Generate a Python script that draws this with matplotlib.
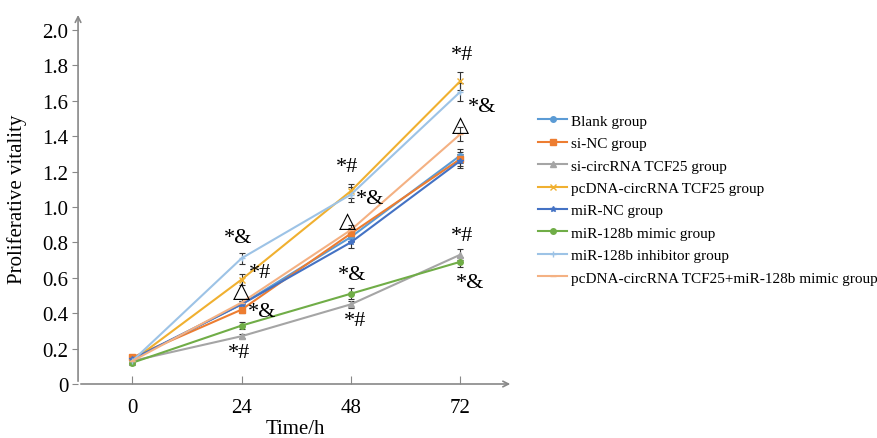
import matplotlib
matplotlib.use('Agg')
import matplotlib.pyplot as plt
from matplotlib.lines import Line2D

plt.rcParams['font.family'] = ['Liberation Serif', 'DejaVu Serif']

hours = [0, 24, 48, 72]

groups = ['Blank group', 'si-NC group', 'si-circRNA TCF25 group',
          'pcDNA-circRNA TCF25 group', 'miR-NC group', 'miR-128b mimic group',
          'miR-128b inhibitor group', 'pcDNA-circRNA TCF25+miR-128b mimic group']

blank = [0.14, 0.45, 0.83, 1.29]
si_nc = [0.15, 0.42, 0.85, 1.27]
si_circ = [0.13, 0.27, 0.45, 0.73]
pcdna = [0.13, 0.59, 1.09, 1.71]
mir_nc = [0.14, 0.45, 0.80, 1.26]
mimic = [0.12, 0.33, 0.51, 0.69]
inhibitor = [0.13, 0.71, 1.07, 1.65]
pcdna_mimic = [0.13, 0.46, 0.87, 1.41]

blank_err = [0.01, 0.02, 0.03, 0.04]
si_nc_err = [0.01, 0.02, 0.03, 0.04]
si_circ_err = [0.01, 0.01, 0.02, 0.03]
pcdna_err = [0.01, 0.03, 0.04, 0.05]
mir_nc_err = [0.01, 0.02, 0.03, 0.04]
mimic_err = [0.01, 0.02, 0.03, 0.03]
inhibitor_err = [0.01, 0.03, 0.04, 0.05]
pcdna_mimic_err = [0.01, 0.02, 0.03, 0.04]

series = [blank, si_nc, si_circ, pcdna, mir_nc, mimic, inhibitor, pcdna_mimic]
errors = [blank_err, si_nc_err, si_circ_err, pcdna_err, mir_nc_err, mimic_err,
          inhibitor_err, pcdna_mimic_err]
colors = ['#5B9BD5', '#ED7D31', '#A5A5A5', '#F0B030', '#4472C4', '#70AD47',
          '#9DC3E6', '#F4B183']
markers = ['o', 's', '^', 'x', '*', 'o', '+', '_']

# significance marks: (text, x, y)
marks = [('*#', 72.4, 1.86), ('*&', 76.8, 1.565), ('\u25b3', 72, 1.46),
         ('*#', 47.2, 1.226), ('*&', 52.2, 1.05), ('\u25b3', 47.2, 0.92),
         ('*#', 72.4, 0.84), ('*&', 74.2, 0.576),
         ('*&', 48.3, 0.616), ('*#', 49, 0.36),
         ('*&', 23.3, 0.825), ('*#', 28.1, 0.627), ('\u25b3', 23.9, 0.52),
         ('*&', 28.5, 0.407), ('*#', 23.5, 0.18)]

fig = plt.figure(figsize=(8.77, 4.39), dpi=100)
ax = fig.add_axes([0.089, 0.123, 0.496, 0.847])

handles = []
for vals, errs, c, m, name in zip(series, errors, colors, markers, groups):
    ax.errorbar(hours, vals, yerr=errs, color=c, ecolor='#333333', elinewidth=0.8,
                capsize=2, capthick=0.8, marker=m, markersize=4, linewidth=1.5)
    handles.append(Line2D([], [], color=c, marker=m, markersize=4, linewidth=1.5,
                          label=name))

for txt, x, y in marks:
    ax.text(x, y, txt, fontsize=16, ha='center', va='center',
            family=['Liberation Serif', 'DejaVu Sans'])

ax.set_xlim(-11.9, 83.6)
ax.set_ylim(0, 2.1)
ax.set_xticks(hours)
ax.set_yticks([0, 0.2, 0.4, 0.6, 0.8, 1.0, 1.2, 1.4, 1.6, 1.8, 2.0])
ax.set_yticklabels(['0', '0.2', '0.4', '0.6', '0.8', '1.0', '1.2', '1.4', '1.6', '1.8', '2.0'])
ax.tick_params(axis='x', direction='in', length=6, color='#888888', labelsize=15, pad=10)
ax.tick_params(axis='y', direction='out', length=4, color='#888888', labelsize=15, pad=3)

for s in ax.spines.values():
    s.set_visible(False)
ax.annotate('', xy=(1, 0), xytext=(0, 0), xycoords='axes fraction',
            arrowprops=dict(arrowstyle='->', color='#888888', lw=1.2))
ax.annotate('', xy=(0, 1), xytext=(0, 0), xycoords='axes fraction',
            arrowprops=dict(arrowstyle='->', color='#888888', lw=1.2))

ax.set_xlabel('Time/h', fontsize=15)
ax.xaxis.set_label_coords(0.5, -0.094)
ax.set_ylabel('Proliferative vitality', fontsize=15)
ax.yaxis.set_label_coords(-0.117, 0.5)

fig.legend(handles=handles, loc='upper left', bbox_to_anchor=(0.61, 0.745),
           frameon=False, fontsize=11, handlelength=1.9, labelspacing=0.57,
           handletextpad=0.25, borderaxespad=0, borderpad=0.2)

fig.savefig('out.png', dpi=100)
